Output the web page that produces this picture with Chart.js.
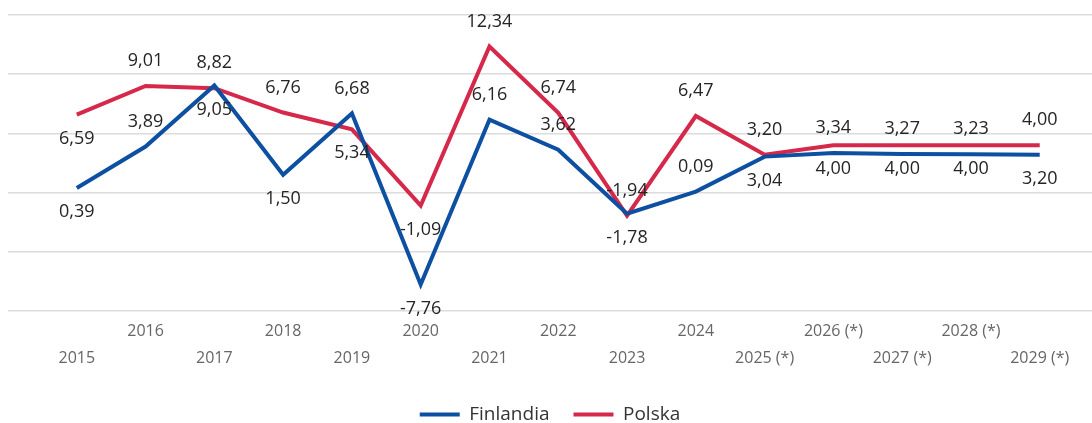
<!DOCTYPE html>
<html>
<head>
<meta charset="utf-8">
<script src="https://cdn.jsdelivr.net/npm/chart.js@4.4.1/dist/chart.umd.min.js"></script>
<style>
  html, body { margin: 0; padding: 0; background: #fff; }
  #wrap { width: 1092px; height: 423px; position: relative; }
</style>
</head>
<body>
<div id="wrap"><canvas id="c"></canvas></div>
<script>
// ---- data ----
const years = ['2015','2016','2017','2018','2019','2020','2021','2022','2023','2024','2025 (*)','2026 (*)','2027 (*)','2028 (*)','2029 (*)'];
const finlandia = [0.39, 3.89, 9.05, 1.50, 6.68, -7.76, 6.16, 3.62, -1.78, 0.09, 3.04, 3.34, 3.27, 3.23, 3.20];
const polska    = [6.59, 9.01, 8.82, 6.76, 5.34, -1.09, 12.34, 6.74, -1.94, 6.47, 3.20, 4.00, 4.00, 4.00, 4.00];
const yTicks = [-10, -5, 0, 5, 10, 15];

// label placement per point (style, not data)
const finPlace = ['b','a','b','b','a','b','a','a','b','a','b','a','a','a','b'];
const polPlace = ['b','a','a','a','b','b','a','a','a','a','a','b','b','b','a'];

const BLUE = '#0d4fa0';
const RED = '#d5284a';

const labelPlugin = {
  id: 'valueLabels',
  afterDatasetsDraw(chart) {
    const ctx = chart.ctx;
    ctx.save();
    ctx.font = '18px "Open Sans"';
    ctx.fillStyle = '#252525';
    ctx.textAlign = 'center';
    ctx.textBaseline = 'middle';
    chart.data.datasets.forEach((ds, di) => {
      const meta = chart.getDatasetMeta(di);
      const place = di === 0 ? finPlace : polPlace;
      meta.data.forEach((pt, i) => {
        const v = ds.data[i].y;
        const off = place[i] === 'a' ? -25 : 24;
        ctx.fillText(v.toFixed(2).replace('.', ','), pt.x, pt.y + off);
      });
    });
    ctx.restore();
  }
};

new Chart(document.getElementById('c'), {
  type: 'line',
  data: {
    datasets: [
      {
        label: 'Finlandia',
        data: finlandia.map((v, i) => ({ x: i, y: v })),
        borderColor: BLUE,
        backgroundColor: BLUE,
        borderWidth: 4,
        pointRadius: 0,
        tension: 0
      },
      {
        label: 'Polska',
        data: polska.map((v, i) => ({ x: i, y: v })),
        borderColor: RED,
        backgroundColor: RED,
        borderWidth: 4,
        pointRadius: 0,
        tension: 0
      }
    ]
  },
  options: {
    responsive: true,
    maintainAspectRatio: false,
    animation: false,
    layout: { padding: { left: 8, right: 0, top: 15, bottom: -11 } },
    scales: {
      x: {
        type: 'linear',
        min: -1,
        max: 14.76,
        afterBuildTicks: axis => { axis.ticks = years.map((_, i) => ({ value: i })); },
        afterFit: axis => { axis.height += 2; },
        grid: { display: false, drawTicks: false },
        border: { display: false },
        ticks: {
          autoSkip: false,
          maxRotation: 0,
          padding: 7,
          color: '#666',
          font: { family: 'Open Sans', size: 16, lineHeight: 1.6875 },
          callback: v => (v % 2 === 0 ? ['', years[v]] : [years[v], ''])
        }
      },
      y: {
        min: yTicks[0],
        max: yTicks[yTicks.length - 1],
        afterBuildTicks: axis => { axis.ticks = yTicks.map(v => ({ value: v })); },
        ticks: { display: false },
        border: { display: false },
        grid: { color: '#dcdcdc', lineWidth: 1.5, drawTicks: false }
      }
    },
    plugins: {
      tooltip: { enabled: false },
      legend: {
        position: 'bottom',
        labels: {
          boxWidth: 40,
          boxHeight: 4,
          padding: 24,
          color: '#333',
          font: { family: 'Open Sans', size: 19 },
          generateLabels: chart => chart.data.datasets.map((ds, i) => ({
            text: ds.label,
            fillStyle: ds.borderColor,
            strokeStyle: ds.borderColor,
            lineWidth: 0,
            hidden: false,
            datasetIndex: i,
            fontColor: '#333'
          }))
        }
      }
    }
  },
  plugins: [labelPlugin]
});
</script>
</body>
</html>
